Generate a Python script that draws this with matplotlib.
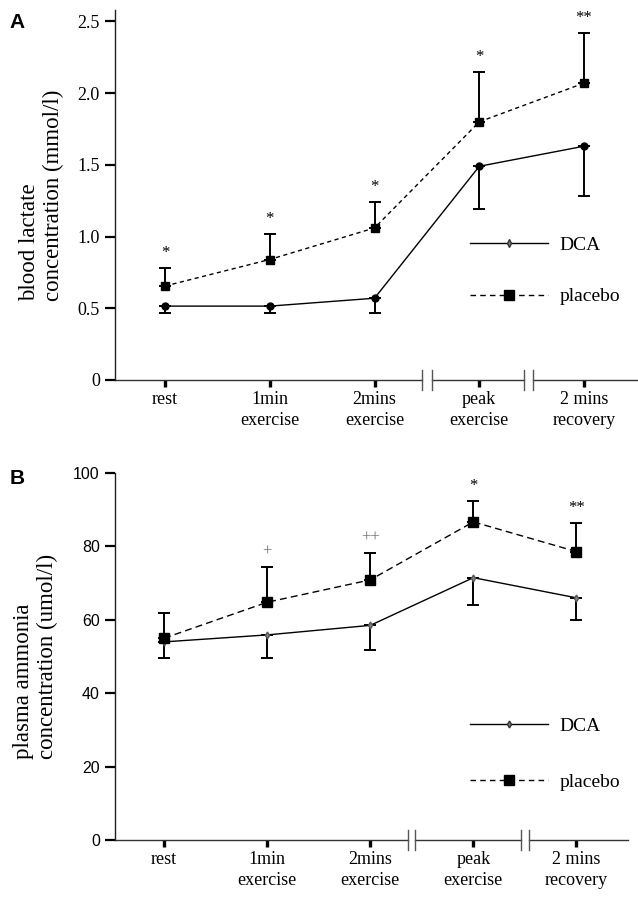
import numpy as np
import matplotlib
matplotlib.use("Agg")
import matplotlib.pyplot as plt
from matplotlib.lines import Line2D
import matplotlib.transforms as mtransforms

plt.rcParams['font.family'] = ['Liberation Serif', 'DejaVu Serif']

stages = ["rest", "1min\nexercise", "2mins\nexercise", "peak\nexercise", "2 mins\nrecovery"]

# panel A: blood lactate (mmol/l)
lac_dca = [0.515, 0.515, 0.57, 1.49, 1.63]
lac_dca_err = [0.05, 0.05, 0.105, 0.30, 0.35]
lac_pla = [0.655, 0.84, 1.06, 1.80, 2.07]
lac_pla_err = [0.125, 0.175, 0.18, 0.35, 0.35]
lac_sig = ["*", "*", "*", "*", "**"]

# panel B: plasma ammonia (umol/l)
amm_dca = [54.0, 55.9, 58.5, 71.5, 66.0]
amm_dca_err = [4.4, 6.3, 6.7, 7.5, 6.0]
amm_pla = [55.0, 64.8, 70.9, 86.7, 78.6]
amm_pla_err = [7.0, 9.6, 7.4, 5.7, 7.8]
amm_sig = ["+", "++", "*", "**"]
amm_sig_idx = [1, 2, 3, 4]

x = np.arange(len(stages))

fig = plt.figure(figsize=(6.38, 8.97), dpi=100)
axA = fig.add_axes([0.1803, 0.5764, 0.8197, 0.4125])
axB = fig.add_axes([0.1803, 0.0635, 0.804, 0.4091])


def style_axis(ax, xlim, breaks, gap, tick_font):
    ax.set_xlim(*xlim)
    for s in ["top", "right", "bottom"]:
        ax.spines[s].set_visible(False)
    ax.spines["left"].set_color("#222222")
    ax.spines["left"].set_linewidth(1.0)
    ax.set_xticks(x)
    ax.set_xticklabels(stages, fontsize=13, linespacing=1.3)
    ax.tick_params(axis="x", direction="out", length=5, width=2.4, pad=3, color="black")
    ax.tick_params(axis="y", direction="out", length=7, width=1.6, pad=4, color="black")
    for lab in ax.get_yticklabels():
        lab.set_family(tick_font)
        lab.set_fontsize(13 if tick_font == "Liberation Serif" else 11.5)
    # broken x axis
    trans = mtransforms.blended_transform_factory(ax.transData, ax.transAxes)
    edges = [xlim[0]]
    for b in breaks:
        edges += [b - gap, b + gap]
    edges.append(xlim[1])
    for i in range(0, len(edges), 2):
        ax.plot([edges[i], edges[i + 1]], [0, 0], color="#333333", lw=1.0,
                transform=trans, clip_on=False)
    for e in edges[1:-1]:
        ax.plot([e, e], [-0.026, 0.026], color="#555555", lw=1.0,
                transform=trans, clip_on=False)


# ---- panel A ----
axA.errorbar(x, lac_dca, yerr=[lac_dca_err, [0] * 5], fmt="none", ecolor="black",
             elinewidth=1.4, capsize=4.5, capthick=1.4)
axA.errorbar(x, lac_pla, yerr=[[0] * 5, lac_pla_err], fmt="none", ecolor="black",
             elinewidth=1.4, capsize=4.5, capthick=1.4)
axA.plot(x, lac_dca, "-", color="black", lw=1.0, marker="o", ms=5)
axA.plot(x, lac_pla, color="black", lw=1.0, dashes=(3, 2.5), marker="s", ms=5.5)
for i, s in enumerate(lac_sig):
    axA.annotate(s, (x[i], lac_pla[i] + lac_pla_err[i]), xytext=(0, 5),
                 textcoords="offset points", ha="center", va="bottom", fontsize=12)
axA.set_ylim(0, 2.58)
axA.set_yticks([0, 0.5, 1.0, 1.5, 2.0, 2.5])
axA.set_yticklabels(["0", "0.5", "1.0", "1.5", "2.0", "2.5"])
style_axis(axA, (-0.477, 4.515), [2.5, 3.47], 0.045, "Liberation Serif")
axA.set_ylabel("blood lactate\nconcentration (mmol/l)", fontsize=16.5,
               multialignment="left", linespacing=1.15)
axA.yaxis.set_label_coords(-0.098, 0.5)

hA = [Line2D([], [], color="black", lw=1.0, marker="d", ms=4, mfc="#777777", mec="#333333"),
      Line2D([], [], color="black", lw=1.0, dashes=(4, 3), marker="s", ms=7)]
axA.legend(hA, ["DCA", "placebo"], loc="center left", bbox_to_anchor=(0.679, 0.295),
           frameon=False, fontsize=14, handlelength=4.0, handletextpad=0.6,
           labelspacing=1.75, borderpad=0, borderaxespad=0, numpoints=1)

# ---- panel B ----
axB.errorbar(x, amm_dca, yerr=[amm_dca_err, [0] * 5], fmt="none", ecolor="black",
             elinewidth=1.4, capsize=4.5, capthick=1.4)
axB.errorbar(x, amm_pla, yerr=[[0] * 5, amm_pla_err], fmt="none", ecolor="black",
             elinewidth=1.4, capsize=4.5, capthick=1.4)
axB.plot(x, amm_dca, "-", color="black", lw=1.0, marker="d", ms=3.5, mfc="#888888", mec="#555555")
axB.plot(x, amm_pla, color="black", lw=1.0, dashes=(5, 3), marker="s", ms=6.5)
for i, s in zip(amm_sig_idx, amm_sig):
    col = "#777777" if "+" in s else "black"
    axB.annotate(s, (x[i], amm_pla[i] + amm_pla_err[i]), xytext=(0, 5),
                 textcoords="offset points", ha="center", va="bottom", fontsize=12, color=col)
axB.set_ylim(0, 100)
axB.set_yticks([0, 20, 40, 60, 80, 100])
style_axis(axB, (-0.476, 4.5), [2.4, 3.5], 0.035, "Liberation Sans")
axB.set_ylabel("plasma ammonia\nconcentration (umol/l)", fontsize=16.5,
               multialignment="left", linespacing=1.15)
axB.yaxis.set_label_coords(-0.112, 0.5)

hB = [Line2D([], [], color="black", lw=1.0, marker="d", ms=3.5, mfc="#777777", mec="#333333"),
      Line2D([], [], color="black", lw=1.0, dashes=(4, 3), marker="s", ms=7)]
axB.legend(hB, ["DCA", "placebo"], loc="center left", bbox_to_anchor=(0.692, 0.234),
           frameon=False, fontsize=14, handlelength=4.0, handletextpad=0.6,
           labelspacing=2.0, borderpad=0, borderaxespad=0, numpoints=1)

fig.text(0.015, 0.985, "A", fontsize=15, fontweight="bold", family="Liberation Sans", va="top")
fig.text(0.015, 0.477, "B", fontsize=15, fontweight="bold", family="Liberation Sans", va="top")

fig.savefig("out.png", dpi=100)
